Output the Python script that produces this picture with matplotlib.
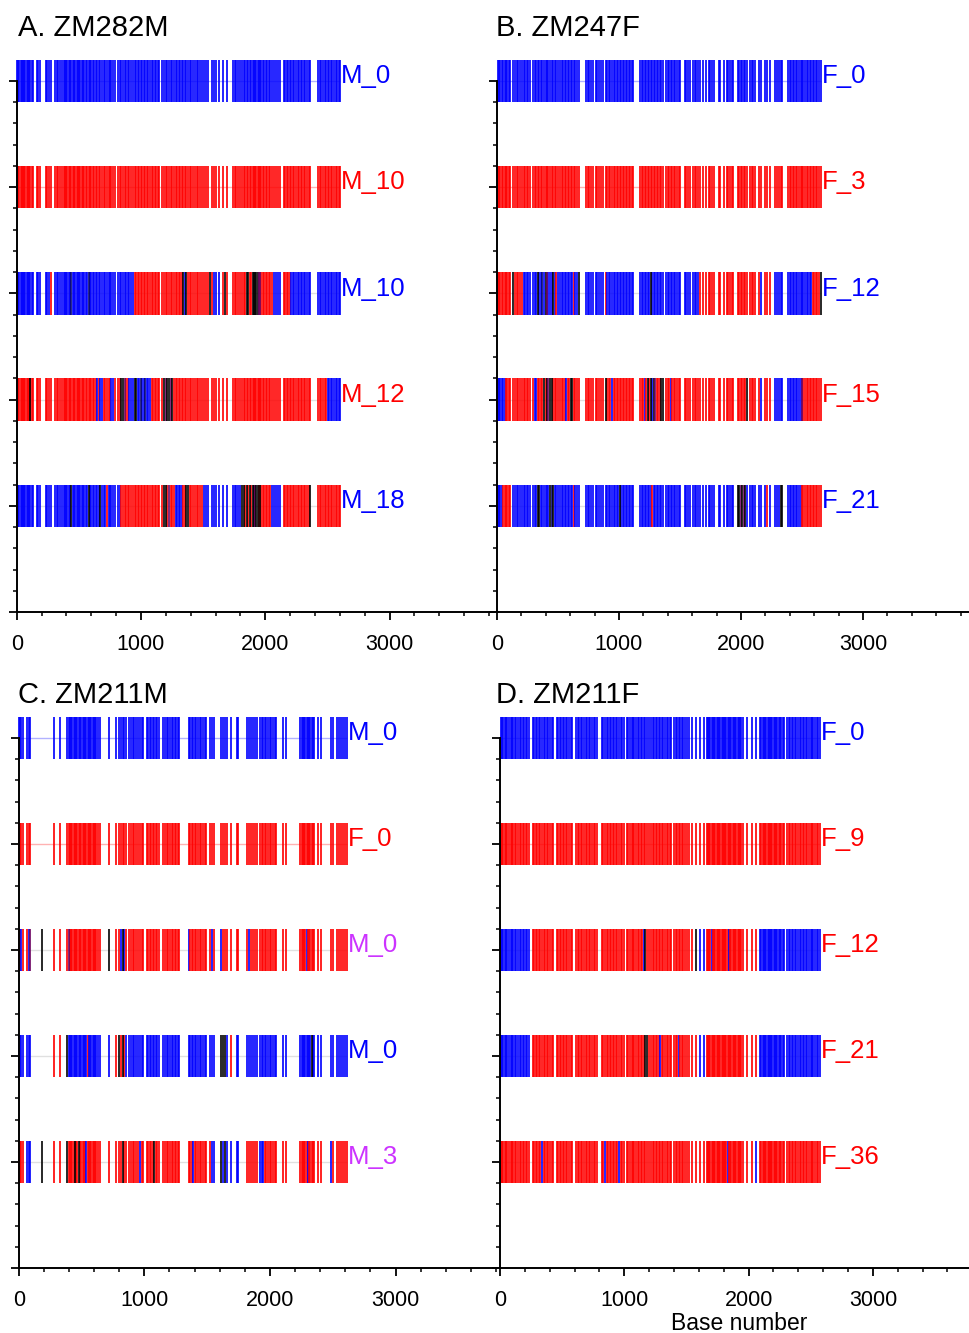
import matplotlib
matplotlib.use("Agg")
import matplotlib.pyplot as plt
from matplotlib.ticker import MultipleLocator

plt.rcParams['font.family'] = ['Liberation Sans', 'DejaVu Sans']

LINE_COLORS = {'b': '#0000ff', 'r': '#ff0000', 'k': '#000000',
               'p': '#6a0060', 'n': '#000070'}
TEXT_COLORS = {'b': '#0000ff', 'r': '#ff0000', 'm': '#cc33ff'}

# ---------------- Panel A: ZM282M ----------------
A_TITLE = "A. ZM282M"
A_SITES = [5, 12, 20, 32, 40, 50, 62, 70, 82, 90, 102, 110, 122, 130,
           165, 175, 190,
           232, 245, 258, 272,
           312, 325, 335, 350, 362,
           378, 388, 398, 408, 418, 428, 440, 450, 460, 470, 482, 492, 502, 512,
           522, 535, 545, 555, 565, 578, 588, 598,
           612, 622, 635, 648, 660, 672, 685, 700, 712, 725, 740, 750,
           762, 775, 788,
           818, 830, 842, 855, 868, 880, 892, 905, 918, 932,
           948, 960, 972, 985, 998, 1010, 1022, 1035, 1048, 1060, 1072, 1085,
           1098, 1110, 1122, 1135, 1148,
           1172, 1185, 1198, 1210, 1225, 1240, 1252,
           1265, 1278, 1290, 1302, 1315, 1328, 1340, 1352, 1365, 1378, 1392,
           1405, 1418, 1432,
           1448, 1460, 1475, 1490, 1505,
           1525, 1540, 1572, 1585, 1600, 1625, 1660, 1690,
           1742, 1755, 1768, 1782, 1795, 1810,
           1825, 1838, 1850, 1862, 1875, 1888, 1898, 1908, 1918, 1928, 1938,
           1948, 1958, 1968, 1978, 1990, 2002, 2015, 2028, 2040, 2052,
           2072, 2085, 2100, 2115,
           2148, 2160, 2172, 2185, 2198, 2210, 2222, 2235, 2248, 2260, 2272,
           2285, 2298, 2310, 2322, 2335, 2348, 2358,
           2428, 2440, 2452, 2465, 2478, 2490, 2502, 2515, 2528, 2540, 2552,
           2565, 2578, 2590, 2600]
A_LABELS = ["M_0", "M_10", "M_10", "M_12", "M_18"]
A_LABEL_COLORS = ['b', 'r', 'b', 'r', 'b']
A_SEGMENTS = [
    [(0, 9999, 'b')],
    [(0, 9999, 'r')],
    [(0, 940, 'b'), (940, 2060, 'r'), (2060, 2130, 'b'), (2130, 2205, 'r'),
     (2205, 9999, 'b')],
    [(0, 2495, 'r'), (2495, 9999, 'b')],
    [(0, 840, 'b'), (840, 1275, 'r'), (1275, 1335, 'b'), (1335, 1500, 'r'),
     (1500, 1800, 'b'), (1800, 2050, 'r'), (2050, 2125, 'b'), (2125, 9999, 'r')],
]
A_MARKS = [
    [],
    [],
    [(272, 'r'), (440, 'n'), (578, 'n'), (1340, 'k'), (1352, 'b'), (1365, 'k'),
     (1555, 'k'), (1585, 'b'), (1600, 'b'), (1625, 'b'), (1675, 'k'),
     (1850, 'k'), (1862, 'k'), (1898, 'k'), (1908, 'k'), (1918, 'k'),
     (1928, 'k'), (1938, 'k'), (1948, 'p'), (1958, 'p')],
    [(107, 'k'), (648, 'b'), (672, 'b'), (685, 'b'), (762, 'b'), (775, 'b'),
     (842, 'k'), (855, 'k'), (868, 'p'), (905, 'b'), (918, 'b'), (932, 'b'),
     (948, 'k'), (960, 'k'), (972, 'b'), (985, 'b'), (998, 'n'), (1010, 'b'),
     (1022, 'b'), (1035, 'n'), (1048, 'b'), (1060, 'b'), (1072, 'b'),
     (1185, 'k'), (1198, 'p'), (1210, 'k'), (1225, 'k'), (1240, 'p'),
     (1252, 'k')],
    [(440, 'k'), (578, 'k'), (672, 'k'), (725, 'r'), (1185, 'k'), (1198, 'k'),
     (1225, 'p'), (1365, 'k'), (1378, 'k'), (1810, 'k'), (1825, 'k'),
     (1850, 'k'), (1875, 'k'), (1898, 'k'), (1908, 'k'), (1918, 'p'),
     (1928, 'k'), (1938, 'k'), (1958, 'k'), (2358, 'k')],
]

# ---------------- Panel B: ZM247F ----------------
B_TITLE = "B. ZM247F"
B_SITES = [8, 18, 28, 40, 52, 62, 72, 85, 95, 107,
           130,
           150, 162, 175, 190, 205,
           218, 232, 245, 258, 270,
           298, 310, 322, 335, 348, 360, 372, 385, 398, 410, 422, 435, 448, 460,
           472, 485, 498,
           518, 530, 542, 555, 568, 580, 592, 605, 618, 630, 642, 655,
           675,
           732, 745, 758, 772, 787,
           808, 820, 835, 850, 865,
           895, 905, 918, 930, 942, 955, 968, 980, 992, 1005, 1018, 1030, 1042,
           1055, 1068, 1080, 1092, 1105, 1115,
           1172, 1185, 1198, 1210, 1222, 1235, 1248, 1260, 1272, 1285, 1298,
           1310, 1322, 1335, 1348, 1360,
           1388, 1400, 1412, 1425, 1438, 1450, 1462, 1475, 1488, 1500,
           1538, 1552, 1565, 1580,
           1608, 1620, 1635, 1650,
           1668, 1690, 1712, 1735, 1750, 1765, 1782, 1818, 1832, 1860, 1882,
           1895, 1910, 1925, 1938, 1972, 1985, 1998, 2010, 2022, 2035, 2048,
           2072, 2088, 2102, 2118, 2150, 2168, 2198, 2215, 2235,
           2282, 2295, 2310, 2325, 2340,
           2388, 2400, 2412, 2425, 2438, 2450, 2462, 2475, 2488, 2500, 2512,
           2525, 2538, 2550, 2562, 2575, 2588, 2600, 2612, 2625, 2640, 2652]
B_LABELS = ["F_0", "F_3", "F_12", "F_15", "F_21"]
B_LABEL_COLORS = ['b', 'r', 'b', 'r', 'b']
B_SEGMENTS = [
    [(0, 9999, 'b')],
    [(0, 9999, 'r')],
    [(0, 210, 'r'), (210, 1660, 'b'), (1660, 2270, 'r'), (2270, 2580, 'b'),
     (2580, 9999, 'r')],
    [(0, 65, 'b'), (65, 2270, 'r'), (2270, 2500, 'b'), (2500, 9999, 'r')],
    [(0, 45, 'b'), (45, 110, 'r'), (110, 2500, 'b'), (2500, 9999, 'r')],
]
B_MARKS = [
    [],
    [],
    [(130, 'k'), (335, 'k'), (372, 'n'), (398, 'k'), (410, 'p'), (460, 'k'),
     (485, 'r'), (630, 'r'), (675, 'k'), (895, 'r'), (1260, 'k'),
     (2168, 'b'), (2652, 'k')],
    [(310, 'b'), (322, 'b'), (385, 'k'), (410, 'k'), (422, 'p'), (435, 'k'),
     (448, 'k'), (568, 'b'), (605, 'k'), (618, 'k'), (895, 'k'), (942, 'b'),
     (1210, 'b'), (1235, 'k'), (1260, 'k'), (1272, 'b'), (1285, 'k'),
     (1298, 'p'), (1348, 'k'), (1360, 'k'), (1425, 'b'), (2048, 'k'),
     (2168, 'b'), (2500, 'p')],
    [(335, 'k'), (348, 'k'), (435, 'k'), (448, 'n'), (460, 'k'), (630, 'r'),
     (1005, 'k'), (1272, 'r'), (1972, 'k'), (1985, 'k'), (1998, 'p'),
     (2010, 'k'), (2022, 'p'), (2035, 'k'), (2215, 'r'), (2325, 'k'),
     (2340, 'k')],
]

# ---------------- Panel C: ZM211M ----------------
C_TITLE = "C. ZM211M"
C_SITES = [3, 12, 22, 32,
           70, 80, 92,
           283, 330,
           388, 398, 408, 418, 428, 438, 448, 458, 468, 478, 488, 498, 508, 518,
           528, 538, 548, 558, 568, 578, 588, 598, 608, 618,
           635, 650,
           720,
           778, 795,
           818, 830, 842, 855,
           882, 895, 908, 920, 935,
           952, 965, 978, 992,
           1018, 1030, 1042, 1055, 1068, 1080, 1092, 1105, 1118,
           1152, 1165, 1178,
           1192, 1205, 1218, 1230, 1242, 1255, 1268, 1280,
           1352, 1365, 1378, 1390, 1402, 1415, 1428, 1440,
           1452, 1465, 1480, 1495, 1525, 1540, 1558,
           1612, 1625, 1640, 1655,
           1690, 1735, 1748,
           1820, 1835, 1850, 1865, 1880, 1895,
           1922, 1935, 1948, 1960, 1972, 1985, 1998, 2010, 2025, 2040, 2052,
           2108, 2130,
           2242, 2252, 2262, 2272, 2282, 2292, 2302, 2312, 2322, 2332, 2342, 2352,
           2385, 2410,
           2485, 2500,
           2538, 2552, 2565, 2580, 2595, 2610]
C_LABELS = ["M_0", "F_0", "M_0", "M_0", "M_3"]
C_LABEL_COLORS = ['b', 'r', 'm', 'b', 'm']
C_SEGMENTS = [
    [(0, 9999, 'b')],
    [(0, 9999, 'r')],
    [(0, 9999, 'r')],
    [(0, 9999, 'b')],
    [(0, 35, 'r'), (35, 100, 'b'), (100, 1530, 'r'), (1530, 1760, 'b'),
     (1760, 1900, 'r'), (1900, 1960, 'b'), (1960, 9999, 'r')],
]
C_MARKS = [
    [],
    [],
    [(22, 'b'), (80, 'b'), (92, 'p'), (185, 'k'), (398, 'p'), (720, 'k'),
     (818, 'b'), (830, 'k'), (842, 'b'), (1352, 'b'), (1540, 'b'),
     (1612, 'b'), (1835, 'b'), (2292, 'b')],
    [(283, 'r'), (330, 'r'), (388, 'k'), (548, 'r'), (778, 'r'), (795, 'k'),
     (818, 'r'), (830, 'k'), (842, 'r'), (1612, 'k'), (1625, 'k'),
     (1640, 'k'), (1690, 'r'), (2332, 'k')],
    [(185, 'k'), (388, 'k'), (448, 'k'), (478, 'k'), (538, 'b'), (830, 'k'),
     (965, 'b'), (1080, 'k'), (1390, 'b'), (1612, 'k'), (1640, 'k'),
     (2302, 'b'), (2485, 'b')],
]

# ---------------- Panel D: ZM211F ----------------
D_TITLE = "D. ZM211F"
D_SITES = [5, 15, 25, 38, 50, 60, 72, 85, 95, 108, 120, 132, 145, 158, 170,
           182, 195, 208, 220, 235,
           262, 275, 288, 300, 312, 325, 338, 350, 362, 375, 390, 402, 415, 428,
           455, 468, 480, 492, 505, 518, 530, 542, 555, 568, 580,
           612, 625, 638, 650, 662, 675, 690, 702, 715, 728, 740, 755, 768, 780,
           820, 832, 845, 858, 870, 882, 895, 908, 920, 932, 945, 958, 970,
           985, 998,
           1020, 1032, 1045, 1058, 1070, 1082, 1095, 1108, 1120, 1132, 1145,
           1158, 1170, 1185, 1198,
           1215, 1228, 1240, 1252, 1265, 1278, 1290, 1302, 1315, 1328, 1340,
           1352, 1365, 1378,
           1400, 1412, 1425, 1438, 1450, 1462, 1475, 1490, 1505, 1518,
           1545, 1580, 1612, 1640,
           1662, 1672, 1682, 1692, 1702, 1712, 1722, 1732, 1742, 1752, 1762,
           1772, 1782, 1792, 1802, 1812, 1822, 1832, 1842, 1852, 1862, 1872,
           1882, 1892, 1902, 1912, 1922, 1932, 1942, 1955,
           1990, 2030, 2060,
           2092, 2102, 2112, 2122, 2132, 2142, 2152, 2162, 2172, 2182, 2192,
           2202, 2212, 2222, 2232, 2242, 2252, 2262, 2275, 2288,
           2310, 2322, 2335, 2348, 2360, 2372, 2385, 2398, 2410, 2422, 2435,
           2448, 2460, 2472, 2485, 2498, 2510, 2522, 2535, 2548, 2560, 2572]
D_LABELS = ["F_0", "F_9", "F_12", "F_21", "F_36"]
D_LABEL_COLORS = ['b', 'r', 'r', 'r', 'r']
D_SEGMENTS = [
    [(0, 9999, 'b')],
    [(0, 9999, 'r')],
    [(0, 245, 'b'), (245, 1560, 'r'), (1560, 1650, 'b'), (1650, 2070, 'r'),
     (2070, 9999, 'b')],
    [(0, 245, 'b'), (245, 2070, 'r'), (2070, 9999, 'b')],
    [(0, 9999, 'r')],
]
D_MARKS = [
    [],
    [],
    [(1158, 'b'), (1170, 'k'), (1580, 'k'), (1702, 'b'), (1842, 'b')],
    [(1170, 'k'), (1185, 'k'), (1290, 'b'), (1438, 'b'), (1612, 'b'),
     (1640, 'b')],
    [(338, 'b'), (845, 'b'), (958, 'b'), (1832, 'b'), (2060, 'b')],
]

X_LABEL = "Base number"


def row_colours(sites, segments, marks):
    colours = {}
    for s in sites:
        for lo, hi, c in segments:
            if lo <= s < hi:
                colours[s] = c
    for pos, c in marks:
        colours[pos] = c
    return colours


def draw_panel(ax, sites, labels, label_colours, segments, marks, xmax):
    ax.set_xlim(0, xmax)
    ax.set_ylim(0, 5)
    ax.patch.set_alpha(0)
    for i in range(5):
        y = 5 - i
        colours = row_colours(sites, segments[i], marks[i])
        xs = sorted(colours)
        pure = len(segments[i]) == 1 and not marks[i]
        base_col = LINE_COLORS[segments[i][0][2]] if pure else '#999999'
        ax.hlines(y, 0, xs[-1], color=base_col, lw=1.0, alpha=0.3, zorder=1,
                  clip_on=False)
        light = [x for x in xs if colours[x] in ('b', 'r')]
        dark = [x for x in xs if colours[x] not in ('b', 'r')]
        ax.vlines(light, y - 0.2, y + 0.2,
                  colors=[LINE_COLORS[colours[x]] for x in light],
                  lw=1.25, alpha=0.97, zorder=2, clip_on=False)
        if dark:
            ax.vlines(dark, y - 0.2, y + 0.2,
                      colors=[LINE_COLORS[colours[x]] for x in dark],
                      lw=1.25, alpha=0.95, zorder=3, clip_on=False)
        ax.text(xs[-1] + 10, y - 0.02, labels[i],
                color=TEXT_COLORS[label_colours[i]], fontsize=18.5,
                ha='left', va='baseline')

    for s in ('top', 'right'):
        ax.spines[s].set_visible(False)
    for s in ('left', 'bottom'):
        ax.spines[s].set_linewidth(1.4)
    ax.xaxis.set_major_locator(MultipleLocator(1000))
    ax.xaxis.set_minor_locator(MultipleLocator(200))
    ax.yaxis.set_major_locator(MultipleLocator(1))
    ax.yaxis.set_minor_locator(MultipleLocator(0.2))
    ax.tick_params(which='major', direction='out', length=5.5, width=1.3)
    ax.tick_params(which='minor', direction='out', length=3, width=1.1)
    ax.tick_params(axis='y', labelleft=False)
    ax.tick_params(axis='x', labelsize=15.5, pad=10.5)


W, H = 969, 1333
fig = plt.figure(figsize=(W / 100, H / 100), dpi=100)


def axes_at(x0, x1, y_bottom, y_top):
    return fig.add_axes([x0 / W, 1 - y_bottom / H, (x1 - x0) / W,
                         (y_bottom - y_top) / H])


ax_a = axes_at(16.7, 497.7, 612, 81)
ax_b = axes_at(497, 969, 612, 81)
ax_c = axes_at(18.7, 500, 1268, 738)
ax_d = axes_at(500, 969, 1268, 738)

draw_panel(ax_a, A_SITES, A_LABELS, A_LABEL_COLORS, A_SEGMENTS, A_MARKS, 3870)
draw_panel(ax_b, B_SITES, B_LABELS, B_LABEL_COLORS, B_SEGMENTS, B_MARKS, 3869)
draw_panel(ax_c, C_SITES, C_LABELS, C_LABEL_COLORS, C_SEGMENTS, C_MARKS, 3832)
draw_panel(ax_d, D_SITES, D_LABELS, D_LABEL_COLORS, D_SEGMENTS, D_MARKS, 3773)

fig.text(18 / W, 1 - 36 / H, A_TITLE, fontsize=21, va='baseline', ha='left')
fig.text(496 / W, 1 - 36 / H, B_TITLE, fontsize=21, va='baseline', ha='left')
fig.text(18 / W, 1 - 703 / H, C_TITLE, fontsize=21, va='baseline', ha='left')
fig.text(496 / W, 1 - 703 / H, D_TITLE, fontsize=21, va='baseline', ha='left')
fig.text(739 / W, 1 - 1330 / H, X_LABEL, fontsize=16.5, va='baseline',
         ha='center')

fig.savefig("out.png", dpi=100)
